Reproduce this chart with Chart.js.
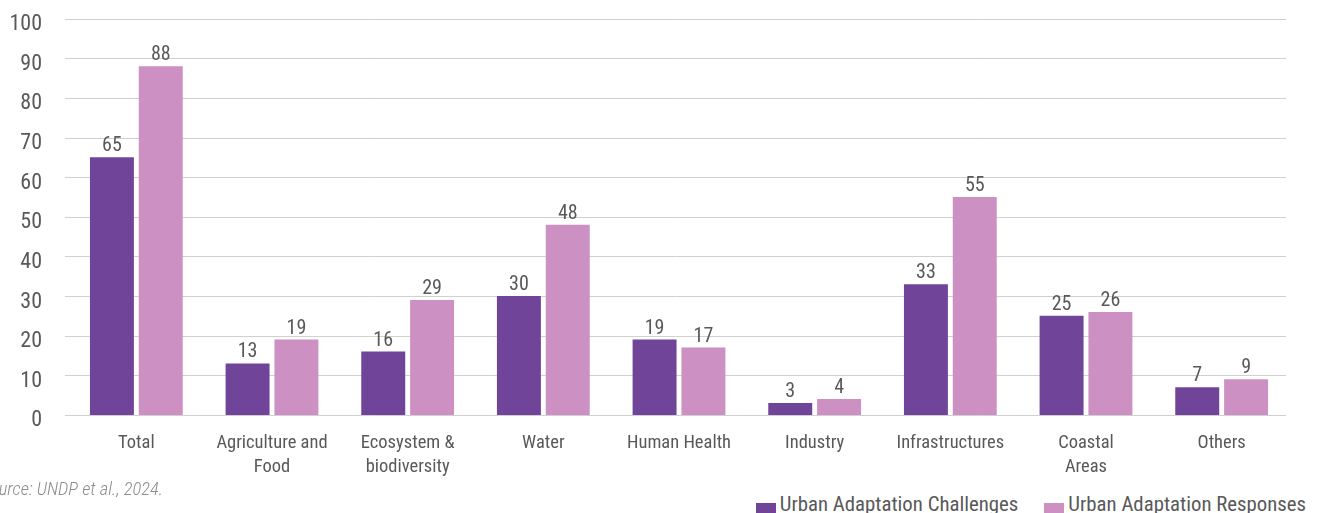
<!DOCTYPE html>
<html>
<head>
<meta charset="utf-8">
<script src="https://cdn.jsdelivr.net/npm/chart.js@4"></script>
<style>
  html, body { margin: 0; padding: 0; background: #fff; overflow: hidden; width: 1322px; height: 513px; }
  #wrap { position: relative; width: 1322px; height: 513px; overflow: hidden; }
  #chart { position: absolute; left: 0; top: -21px; }
  .note {
    position: absolute; white-space: nowrap;
    font-family: "Roboto Condensed", "Liberation Sans Narrow", Roboto, sans-serif;
  }
  #source { right: 1159px; top: 478px; line-height: 22px; font-size: 18.5px; font-style: italic; font-weight: 300; color: #8c8c8c; }
  #legend { right: 16px; top: 492px; display: flex; font-size: 20.8px; line-height: 24px; color: #595959; }
  #legend span.item { display: flex; align-items: flex-start; margin-left: 26px; }
  #legend span.box { display: inline-block; width: 20px; height: 13px; margin-top: 11px; margin-right: 4px; }
</style>
</head>
<body>
<div id="wrap">
  <canvas id="chart" width="1322" height="508"></canvas>
  <div id="source" class="note">Source: UNDP et al., 2024.</div>
  <div id="legend" class="note"></div>
</div>
<script>
  const categories = ["Total", ["Agriculture and", "Food"], ["Ecosystem &", "biodiversity"], "Water",
    "Human Health", "Industry", "Infrastructures", ["Coastal", "Areas"], "Others"];
  const challenges = [65, 13, 16, 30, 19, 3, 33, 25, 7];
  const responses = [88, 19, 29, 48, 17, 4, 55, 26, 9];
  const yTicks = [0, 10, 20, 30, 40, 50, 60, 70, 80, 90, 100];

  const FONT = "'Roboto Condensed', 'Liberation Sans Narrow', Roboto, sans-serif";
  const TEXT = "#595959";
  const GRID_SHIFT = 3.5; // gridlines sit a bit left of the bar groups in the original

  // horizontal gridlines, drawn from the y scale
  const gridLines = {
    id: "gridLines",
    beforeDatasetsDraw(chart) {
      const { ctx, chartArea, scales } = chart;
      ctx.save();
      ctx.strokeStyle = "#d0d0d0";
      ctx.lineWidth = 1;
      scales.y.ticks.forEach((t) => {
        const y = Math.round(scales.y.getPixelForValue(t.value)) + 0.5;
        ctx.beginPath();
        ctx.moveTo(chartArea.left - GRID_SHIFT, y);
        ctx.lineTo(chartArea.right - GRID_SHIFT, y);
        ctx.stroke();
      });
      ctx.restore();
    },
  };

  // draws the value above each bar
  const valueLabels = {
    id: "valueLabels",
    afterDatasetsDraw(chart) {
      const ctx = chart.ctx;
      ctx.save();
      ctx.font = "20px " + FONT;
      ctx.fillStyle = TEXT;
      ctx.textAlign = "center";
      ctx.textBaseline = "bottom";
      chart.data.datasets.forEach((ds, i) => {
        chart.getDatasetMeta(i).data.forEach((bar, j) => {
          ctx.fillText(ds.data[j], bar.x, bar.y - 1);
        });
      });
      ctx.restore();
    },
  };

  const chart = new Chart(document.querySelector("#chart"), {
    type: "bar",
    data: {
      labels: categories,
      datasets: [
        { label: "Urban Adaptation Challenges", data: challenges, backgroundColor: "#6f4499" },
        { label: "Urban Adaptation Responses", data: responses, backgroundColor: "#cd90c2" },
      ],
    },
    options: {
      responsive: false,
      animation: false,
      layout: { padding: { left: 0, right: 32.5, top: 0, bottom: 0 } },
      datasets: { bar: { categoryPercentage: 0.72, barPercentage: 0.9 } },
      scales: {
        y: {
          min: 0,
          max: 100,
          afterBuildTicks: (axis) => { axis.ticks = yTicks.map((v) => ({ value: v })); },
          afterFit: (axis) => { axis.width = 68.5; },
          border: { display: false },
          grid: { display: false, drawTicks: false },
          ticks: { color: TEXT, font: { family: FONT, size: 22 }, padding: 26.5, labelOffset: 6 },
        },
        x: {
          border: { display: false },
          grid: { display: false },
          ticks: { color: TEXT, font: { family: FONT, size: 18.5, lineHeight: 1.3 }, padding: 8, maxRotation: 0 },
        },
      },
      plugins: {
        tooltip: { enabled: false },
        legend: { display: false },
      },
    },
    plugins: [gridLines, valueLabels],
  });

  document.querySelector("#legend").innerHTML = chart.data.datasets.map((ds) =>
    `<span class="item"><span class="box" style="background:${ds.backgroundColor}"></span>${ds.label}</span>`
  ).join("");
</script>
</body>
</html>
